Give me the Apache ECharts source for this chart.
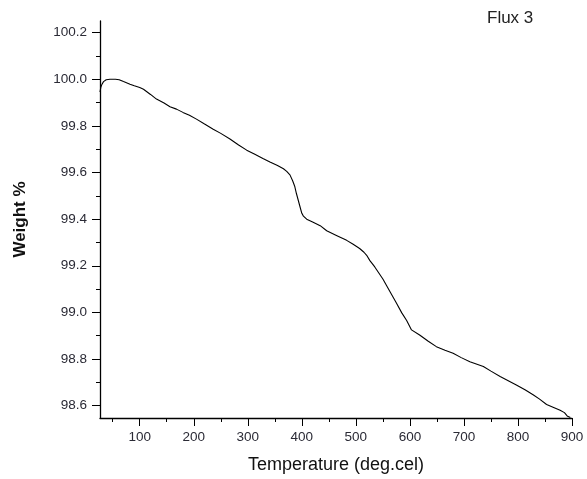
<!DOCTYPE html>
<html>
<head>
<meta charset="utf-8">
<script src="https://cdn.jsdelivr.net/npm/echarts@6/dist/echarts.min.js"></script>
<style>html,body{margin:0;padding:0;background:#fff}#c{width:587px;height:479px}</style>
</head>
<body>
<div id="c"></div>
<script>
var temperature = [26.5,28,30,33,38,45,55,62,70,82,90,100,107,120,131,145,156,168,180,192,205,220,236,250,267,283,298,313,328,341,355,366,372,378,383,387,390,393.5,397,400,403,409,420,434,446,464,483,495,507,515,520,526,535,550,563,575,585,594,603,618,634,649,665,680,695,711,736,750,767,782,797,813,828,840,853,866,878,886,891,897];
var weight = [99.945,99.965,99.978,99.99,99.998,100.0,100.0,99.998,99.99,99.979,99.972,99.965,99.957,99.935,99.915,99.898,99.882,99.872,99.858,99.846,99.829,99.808,99.786,99.768,99.744,99.718,99.696,99.678,99.660,99.645,99.630,99.616,99.605,99.590,99.565,99.540,99.51,99.48,99.45,99.425,99.413,99.400,99.388,99.372,99.350,99.330,99.309,99.292,99.274,99.258,99.245,99.222,99.195,99.143,99.090,99.040,98.998,98.965,98.925,98.903,98.876,98.853,98.838,98.825,98.806,98.788,98.768,98.748,98.725,98.707,98.689,98.668,98.647,98.628,98.605,98.592,98.580,98.570,98.556,98.549];
var xMajor = [100,200,300,400,500,600,700,800,900];
var xMinor = [50,150,250,350,450,550,650,750,850];
var yMajor = [98.6,98.8,99.0,99.2,99.4,99.6,99.8,100.0,100.2];
var yMinor = [98.7,98.9,99.1,99.3,99.5,99.7,99.9,100.1];

var data = temperature.map(function(t,i){return [t, weight[i]];});
var chart = echarts.init(document.getElementById('c'));
var lab = {color:'#2a2a35', fontFamily:'Liberation Sans, Arial', fontSize:13.5};
chart.setOption({
  animation:false,
  grid:{left:100, right:15, top:21, bottom:61},
  xAxis:[{
    type:'value', min:26.5, max:900,
    axisLine:{lineStyle:{color:'#000', width:1.3}},
    axisTick:{customValues:xMajor, length:8, inside:false, lineStyle:{color:'#000'}},
    axisLabel:Object.assign({customValues:xMajor, margin:12, formatter:function(v){return String(Math.round(v));}}, lab),
    splitLine:{show:false},
    name:'Temperature (deg.cel)', nameLocation:'middle', nameGap:38,
    nameTextStyle:{color:'#111', fontSize:18, fontFamily:'Liberation Sans, Arial'}
  },{
    type:'value', min:26.5, max:900, position:'bottom',
    axisLine:{show:false},
    axisTick:{customValues:xMinor, length:4, lineStyle:{color:'#000'}},
    axisLabel:{show:false}, splitLine:{show:false}
  }],
  yAxis:[{
    type:'value', min:98.547, max:100.25,
    axisLine:{show:true, lineStyle:{color:'#000', width:1.3}},
    axisTick:{show:true, customValues:yMajor, length:8, lineStyle:{color:'#000'}},
    axisLabel:Object.assign({customValues:yMajor, margin:13, formatter:function(v){return v.toFixed(1);}}, lab),
    splitLine:{show:false},
    name:'Weight %', nameLocation:'middle', nameGap:71, nameRotate:90,
    nameTextStyle:{color:'#111', fontSize:17, fontWeight:'bold', fontFamily:'Liberation Sans, Arial'}
  },{
    type:'value', min:98.547, max:100.25, position:'left',
    axisLine:{show:false},
    axisTick:{show:true, customValues:yMinor, length:4, lineStyle:{color:'#000'}},
    axisLabel:{show:false}, splitLine:{show:false}
  }],
  graphic:[{type:'text', left:487, top:10, style:{text:'Flux 3', fill:'#222', fontSize:17, fontFamily:'Liberation Sans, Arial'}}],
  series:[{
    type:'line', data:data, showSymbol:false, symbol:'none',
    lineStyle:{color:'#000', width:1.1}, xAxisIndex:0, yAxisIndex:0
  }]
});
</script>
</body>
</html>
